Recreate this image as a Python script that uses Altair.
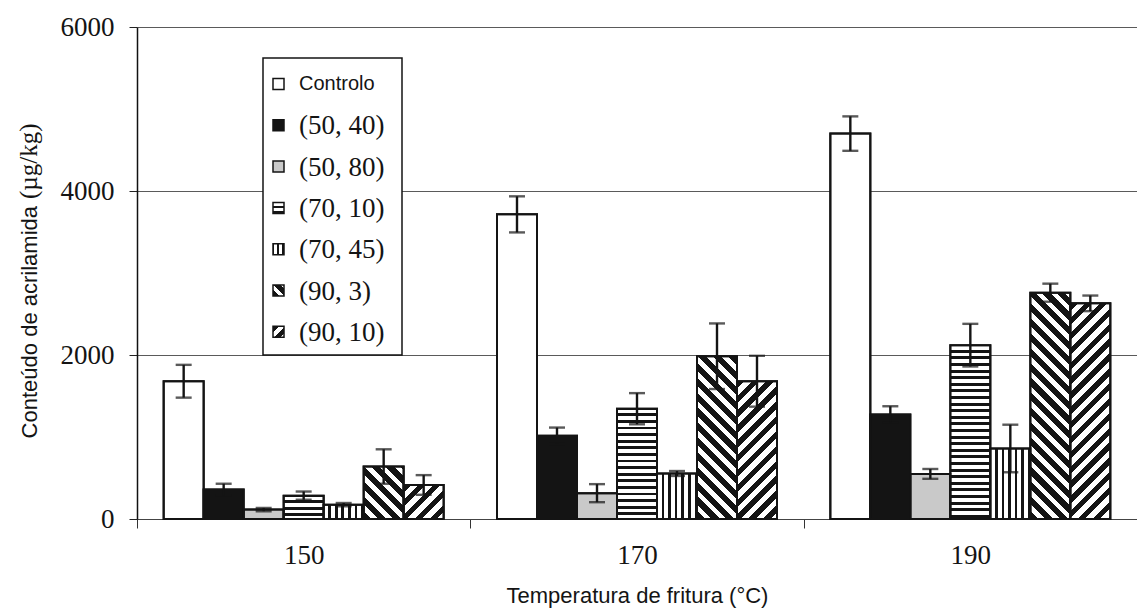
import math

import altair as alt
import pandas as pd

# ---- data -------------------------------------------------------------
temperaturas = ["150", "170", "190"]
tratamentos = ["Controlo", "(50, 40)", "(50, 80)", "(70, 10)", "(70, 45)", "(90, 3)", "(90, 10)"]

# mean acrylamide content (µg/kg) per pre-treatment, one list per frying temperature
media_150 = [1680, 360, 115, 285, 175, 640, 415]
media_170 = [3715, 1015, 315, 1345, 555, 1985, 1680]
media_190 = [4700, 1275, 550, 2120, 860, 2760, 2630]

# standard deviations
desvio_150 = [200, 70, 20, 50, 20, 210, 120]
desvio_170 = [220, 100, 110, 190, 30, 400, 310]
desvio_190 = [210, 100, 60, 260, 290, 110, 95]

medias = {"150": media_150, "170": media_170, "190": media_190}
desvios = {"150": desvio_150, "170": desvio_170, "190": desvio_190}

linhas = []
for t in temperaturas:
    for s, m, d in zip(tratamentos, medias[t], desvios[t]):
        linhas.append({"temp": t, "trat": s, "valor": m, "lo": m - d, "hi": m + d})
df = pd.DataFrame(linhas)

# ---- layout / style -----------------------------------------------------
W, H = 1000, 492
Y_MAX = 6000
PX = H / Y_MAX
OUTER = 2 / 3
BAR_W = W / len(temperaturas) / (len(tratamentos) + 2 * OUTER)

NEGRO = "#141414"
BRANCO = "#ffffff"
CINZA = "#c9c9c9"
SANS = "Liberation Sans"
SERIF = "Liberation Serif"


def faixas(total, periodo, frac, fase=0.0):
    """Hard-edged black/white stops repeating every `periodo` pixels over `total` pixels."""
    stops = []
    q = -fase
    while q < total:
        segs = [(q, q + periodo * frac, NEGRO), (q + periodo * frac, q + periodo, BRANCO)]
        for a, b, cor in segs:
            a, b = max(a, 0.0), min(b, total)
            if b > a:
                stops.append({"offset": a / total, "color": cor})
                stops.append({"offset": b / total, "color": cor})
        q += periodo
    return stops


def padrao(nome, w, h, escala=1.0):
    """Linear-gradient fill that imitates the hatch of each pre-treatment."""
    h = max(h, 1.0)
    if nome == "(70, 10)":
        return {"gradient": "linear", "x1": 0, "y1": 0, "x2": 0, "y2": 1,
                "stops": faixas(h, 6.6 * escala, 0.45, 2.0 * escala)}
    if nome == "(70, 45)":
        return {"gradient": "linear", "x1": 0, "y1": 0, "x2": 1, "y2": 0,
                "stops": faixas(w, 6.6 * escala, 0.4, 2.0 * escala)}
    k = (w + h) / (w * w + h * h)
    diag = 10.5 * math.sqrt(2) * escala
    if nome == "(90, 3)":
        return {"gradient": "linear", "x1": 0, "y1": 1, "x2": k * w, "y2": 1 - k * h,
                "stops": faixas(w + h, diag, 0.55)}
    return {"gradient": "linear", "x1": 0, "y1": 0, "x2": k * w, "y2": k * h,
            "stops": faixas(w + h, diag, 0.5)}


solidos = {"Controlo": BRANCO, "(50, 40)": NEGRO, "(50, 80)": CINZA}

# ---- shared encodings ---------------------------------------------------
x_scale = alt.Scale(domain=temperaturas, paddingInner=0, paddingOuter=0)
x_axis = alt.Axis(
    title="Temperatura de fritura (°C)", titleFont=SANS, titleFontSize=22,
    titleFontWeight="normal", titleColor=NEGRO, titlePadding=17,
    labelFont=SERIF, labelFontSize=27, labelColor=NEGRO, labelAngle=0, labelPadding=14,
    tickBand="extent", tickSize=9, tickColor="#333333", domainColor="#444444",
    domainWidth=1, grid=False,
)
X = alt.X("temp:N", scale=x_scale, axis=x_axis)
XO = alt.XOffset("trat:N", scale=alt.Scale(domain=tratamentos, paddingInner=0, paddingOuter=OUTER))

y_scale = alt.Scale(domain=[0, Y_MAX], nice=False)
y_axis = alt.Axis(
    title=None, values=[0, 2000, 4000, 6000], format="d",
    labelFont=SERIF, labelFontSize=27, labelColor=NEGRO, labelPadding=15,
    tickSize=8, tickColor="#222222", domainColor="#111111", domainWidth=1.5,
    grid=True, gridColor="#5a5a5a", gridWidth=1,
)


def Y(campo):
    return alt.Y(f"{campo}:Q", scale=y_scale, axis=y_axis)


base = alt.Chart(df)
camadas = []

# solid bars
camadas.append(
    base.transform_filter(alt.FieldOneOfPredicate(field="trat", oneOf=list(solidos)))
    .mark_bar(stroke=NEGRO, strokeWidth=2)
    .encode(
        x=X, xOffset=XO, y=Y("valor"),
        fill=alt.Fill("trat:N", scale=alt.Scale(domain=list(solidos), range=list(solidos.values())),
                      legend=None),
    )
)

# hatched bars, one gradient per bar
for t in temperaturas:
    for s, m in zip(tratamentos, medias[t]):
        if s in solidos:
            continue
        camadas.append(
            base.transform_filter(f"datum.temp == '{t}' && datum.trat == '{s}'")
            .mark_bar(fill=padrao(s, BAR_W, m * PX), stroke=NEGRO, strokeWidth=2)
            .encode(x=X, xOffset=XO, y=Y("valor"))
        )

# crisp outlines on top of all bars
camadas.append(
    base.mark_bar(fillOpacity=0, stroke=NEGRO, strokeWidth=2)
    .encode(x=X, xOffset=XO, y=Y("valor"))
)

# error bars
camadas.append(
    base.mark_rule(color=NEGRO, strokeWidth=2.4)
    .encode(x=X, xOffset=XO, y=Y("lo"), y2="hi:Q")
)
for campo in ("lo", "hi"):
    camadas.append(
        base.mark_tick(color=NEGRO, thickness=2.4, size=16, orient="horizontal")
        .encode(x=X, xOffset=XO, y=Y(campo))
    )

# ---- legend ---------------------------------------------------------------
um = pd.DataFrame({"n": [0]})
LEG_X0, LEG_X1, LEG_Y0, LEG_Y1 = 126, 265, 31, 328
camadas.append(
    alt.Chart(um).mark_rect(fill=BRANCO, stroke=NEGRO, strokeWidth=1.5)
    .encode(x=alt.value(LEG_X0), x2=alt.value(LEG_X1), y=alt.value(LEG_Y0), y2=alt.value(LEG_Y1))
)
SYM = 11
for i, s in enumerate(tratamentos):
    yc = 57 + 41.3 * i
    cor = solidos[s] if s in solidos else padrao(s, SYM, SYM, escala=0.8)
    camadas.append(
        alt.Chart(um).mark_rect(fill=cor, stroke=NEGRO, strokeWidth=1.5)
        .encode(x=alt.value(136), x2=alt.value(136 + SYM),
                y=alt.value(yc - SYM / 2), y2=alt.value(yc + SYM / 2))
    )
    camadas.append(
        alt.Chart(um).mark_text(
            text=s, align="left", baseline="middle", color=NEGRO,
            font=SANS if s == "Controlo" else SERIF,
            fontSize=20 if s == "Controlo" else 27,
        ).encode(x=alt.value(162), y=alt.value(yc + (0 if s == "Controlo" else 1)))
    )

# ---- y-axis title (sans + serif parts) -------------------------------------
camadas.append(
    alt.Chart(um).mark_text(text="Conteúdo de acrilamida", angle=270, align="right",
                            baseline="alphabetic", font=SANS, fontSize=22, color=NEGRO)
    .encode(x=alt.value(-100), y=alt.value(179))
)
camadas.append(
    alt.Chart(um).mark_text(text="(µg/kg)", angle=270, align="left",
                            baseline="alphabetic", font=SERIF, fontSize=25, color=NEGRO)
    .encode(x=alt.value(-100), y=alt.value(172))
)

chart = (
    alt.layer(*camadas)
    .properties(
        width=W, height=H,
        autosize=alt.AutoSizeParams(type="none"),
        padding={"left": 137, "top": 27, "right": 0, "bottom": 95},
        background="white",
    )
    .configure_view(stroke=None)
)

chart.save("out.html", embed_options={"renderer": "svg", "actions": False})
